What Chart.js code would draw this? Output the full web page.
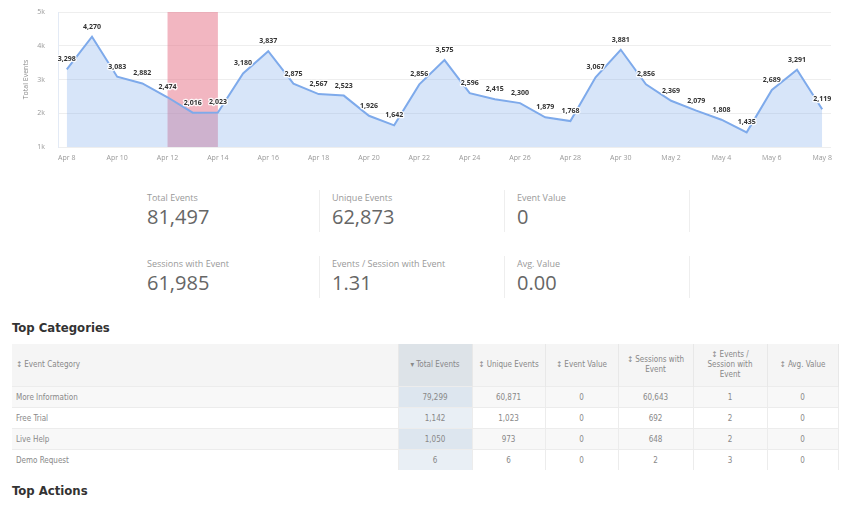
<!DOCTYPE html>
<html>
<head>
<meta charset="utf-8">
<script src="https://cdn.jsdelivr.net/npm/chart.js@4"></script>
<style>
  body { margin: 0; width: 842px; height: 506px; background: #fff; font-family: "Open Sans", sans-serif; overflow: hidden; position: relative; }
  #chartBox { position: absolute; left: 0; top: 0; width: 842px; height: 170px; }
  .stat { position: absolute; width: 172px; height: 42px; padding-left: 13px; border-right: 1px solid #eeeeee; }
  .stat .lbl { font-size: 9px; color: #999; line-height: 12px; margin-top: 2px; }
  .stat .val { font-size: 20px; color: #666; line-height: 26px; }
  h3 { position: absolute; left: 12px; margin: 0; font-family: "Liberation Sans Narrow", "DejaVu Sans Condensed", sans-serif; font-size: 13px; font-weight: bold; color: #333; }
  table { position: absolute; left: 12px; top: 344px; width: 826px; table-layout: fixed; border-collapse: collapse; font-family: "Liberation Sans Narrow", "DejaVu Sans Condensed", sans-serif; font-size: 8px; color: #888; }
  th { background: #f5f5f5; font-weight: normal; height: 42px; padding: 0 3px; border-right: 1px solid #e8e8e8; line-height: 10px; }
  td { height: 20px; padding: 0 3px; border-top: 1px solid #ececec; border-right: 1px solid #ececec; text-align: center; }
  th:first-child, td:first-child { text-align: left; padding-left: 4px; }
  tr:nth-child(even) td { background: #f8f8f8; }
  th.sorted { background: #dde3e8; }
  td.sorted { background: #e9eff5; }
  tr:nth-child(even) td.sorted { background: #dde6ef; }
</style>
</head>
<body>
<div id="chartBox"><canvas id="eventsChart"></canvas></div>
<div id="stats"></div>
<h3 style="top:320px">Top Categories</h3>
<table id="catTable"></table>
<h3 style="top:483px">Top Actions</h3>

<script>
// daily totals, Apr 8 - May 8
const days = ["Apr 8","Apr 9","Apr 10","Apr 11","Apr 12","Apr 13","Apr 14","Apr 15","Apr 16","Apr 17",
  "Apr 18","Apr 19","Apr 20","Apr 21","Apr 22","Apr 23","Apr 24","Apr 25","Apr 26","Apr 27","Apr 28",
  "Apr 29","Apr 30","May 1","May 2","May 3","May 4","May 5","May 6","May 7","May 8"];
const totalEvents = [3298,4270,3083,2882,2474,2016,2023,3180,3837,2875,2567,2523,1926,1642,2856,3575,
  2596,2415,2300,1879,1768,3067,3881,2856,2369,2079,1808,1435,2689,3291,2119];
const bandFrom = "Apr 12";
const bandTo = "Apr 14";
const yTicks = [1000, 2000, 3000, 4000, 5000];

const statLabels = ["Total Events", "Unique Events", "Event Value", "Sessions with Event", "Events / Session with Event", "Avg. Value"];
const statValues = ["81,497", "62,873", "0", "61,985", "1.31", "0.00"];

const tableHeaders = ["↕ Event Category", "▾ Total Events", "↕ Unique Events", "↕ Event Value", "↕ Sessions with Event", "↕ Events / Session with Event", "↕ Avg. Value"];
const categories = ["More Information", "Free Trial", "Live Help", "Demo Request"];
const catTotal = ["79,299", "1,142", "1,050", "6"];
const catUnique = ["60,871", "1,023", "973", "6"];
const catValue = ["0", "0", "0", "0"];
const catSessions = ["60,643", "692", "648", "2"];
const catPerSession = ["1", "2", "2", "3"];
const catAvg = ["0", "0", "0", "0"];

// stats block
const stats = document.getElementById("stats");
statLabels.forEach((l, i) => {
  const d = document.createElement("div");
  d.className = "stat";
  d.style.left = (134 + (i % 3) * 185) + "px";
  d.style.top = (i < 3 ? 190 : 256) + "px";
  d.innerHTML = `<div class="lbl">${l}</div><div class="val">${statValues[i]}</div>`;
  stats.appendChild(d);
});

// table
const colWidths = [386, 74, 73, 73, 75, 74, 71];
let html = "<colgroup>" + colWidths.map(w => `<col style="width:${w}px">`).join("") + "</colgroup>";
html += "<tr>" + tableHeaders.map((h, i) => `<th class="${i == 1 ? 'sorted' : ''}">${h}</th>`).join("") + "</tr>";
categories.forEach((c, r) => {
  html += `<tr><td>${c}</td><td class="sorted">${catTotal[r]}</td><td>${catUnique[r]}</td><td>${catValue[r]}</td>` +
    `<td>${catSessions[r]}</td><td>${catPerSession[r]}</td><td>${catAvg[r]}</td></tr>`;
});
document.getElementById("catTable").innerHTML = html;

// pink plot band behind the series
const bandPlugin = {
  id: "band",
  beforeDatasetsDraw(chart) {
    const { ctx, chartArea, scales } = chart;
    const x1 = scales.x.getPixelForValue(days.indexOf(bandFrom));
    const x2 = scales.x.getPixelForValue(days.indexOf(bandTo));
    ctx.save();
    ctx.fillStyle = "rgba(230, 110, 132, 0.5)";
    ctx.fillRect(x1, chartArea.top, x2 - x1, chartArea.bottom - chartArea.top);
    ctx.restore();
  }
};

// value labels above each point
const labelPlugin = {
  id: "valueLabels",
  afterDatasetsDraw(chart) {
    const { ctx } = chart;
    const meta = chart.getDatasetMeta(0);
    ctx.save();
    ctx.font = "bold 7px 'Open Sans', sans-serif";
    ctx.textAlign = "center";
    ctx.textBaseline = "middle";
    ctx.lineJoin = "round";
    meta.data.forEach((pt, i) => {
      const txt = totalEvents[i].toLocaleString("en-US");
      ctx.strokeStyle = "rgba(255,255,255,0.9)";
      ctx.lineWidth = 2.5;
      ctx.strokeText(txt, pt.x, pt.y - 10);
      ctx.fillStyle = "#333";
      ctx.fillText(txt, pt.x, pt.y - 10);
    });
    ctx.restore();
  }
};

new Chart(document.getElementById("eventsChart"), {
  type: "line",
  data: {
    datasets: [{
      data: totalEvents.map((v, i) => ({ x: i, y: v })),
      borderColor: "#7eaaeb",
      backgroundColor: "rgba(124, 170, 235, 0.3)",
      borderWidth: 2,
      fill: "start",
      pointRadius: 0,
      tension: 0
    }]
  },
  options: {
    responsive: true,
    maintainAspectRatio: false,
    animation: false,
    layout: { padding: { top: 12, right: 11, left: 0, bottom: 0 } },
    plugins: { legend: { display: false }, tooltip: { enabled: false } },
    scales: {
      x: {
        type: "linear",
        min: -0.35,
        max: days.length - 1 + 0.35,
        afterBuildTicks: s => { s.ticks = days.map((d, i) => ({ value: i })).filter(t => t.value % 2 == 0); },
        afterFit: s => { s.height = 23; },
        grid: { display: false, drawTicks: false },
        border: { display: false },
        ticks: { padding: 7, color: "#999", font: { size: 7, family: "Open Sans" }, maxRotation: 0, autoSkip: false,
          callback: v => days[v] }
      },
      y: {
        min: 1000,
        max: 5000,
        afterBuildTicks: s => { s.ticks = yTicks.map(v => ({ value: v })); },
        afterFit: s => { s.width = 58; },
        grid: { color: "#eeeeee", drawTicks: true, tickLength: 10, tickColor: "rgba(0,0,0,0)" },
        border: { display: true, color: "#e3eaf5" },
        ticks: { padding: 3, color: "#999", font: { size: 7, family: "Open Sans" }, callback: v => (v / 1000) + "k" },
        title: { display: true, text: "Total Events", color: "#888", font: { size: 7, family: "Open Sans" }, padding: { top: 22, bottom: 0 } }
      }
    }
  },
  plugins: [bandPlugin, labelPlugin]
});
</script>
</body>
</html>
